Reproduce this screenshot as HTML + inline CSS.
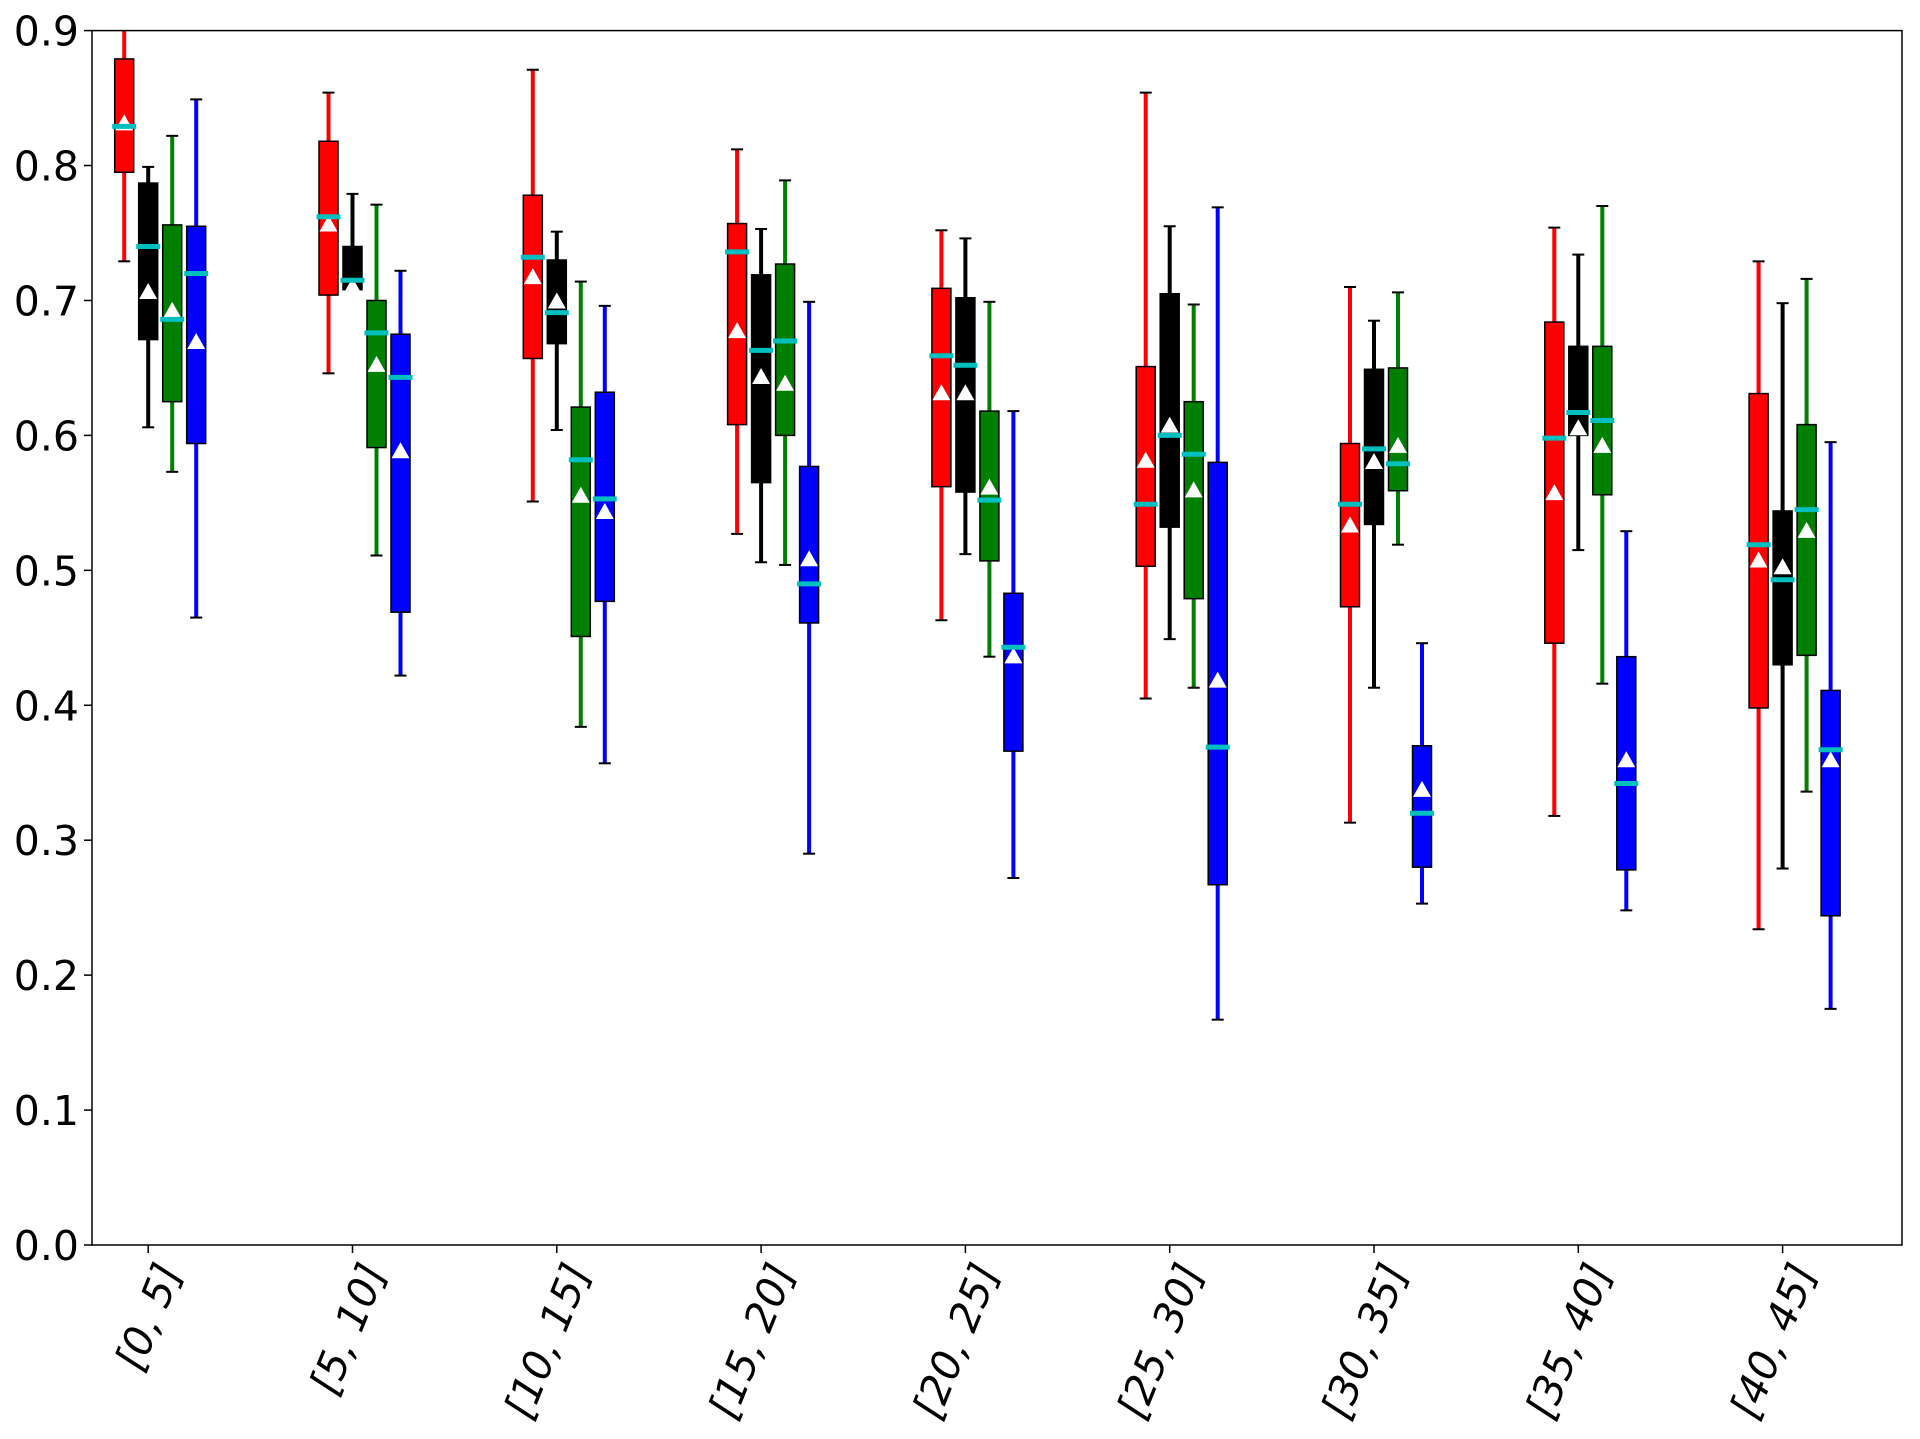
<!DOCTYPE html>
<html><head><meta charset="utf-8"><style>
html,body{margin:0;padding:0;background:#fff;}
svg{display:block;}
text{font-family:"DejaVu Sans","Liberation Sans",sans-serif;}
</style></head><body>
<svg id="chart" width="1920" height="1439" viewBox="0 0 1920 1439" xmlns="http://www.w3.org/2000/svg">
<g id="plot"></g>
<rect x="92" y="30.6" width="1810" height="1214.4" fill="none" stroke="#000" stroke-width="1.5"/>
<g id="yaxis"></g>
<g id="xaxis"></g>
</svg>
<script>
const categories = ["[0, 5]","[5, 10]","[10, 15]","[15, 20]","[20, 25]","[25, 30]","[30, 35]","[35, 40]","[40, 45]"];
const seriesColors = ["#ff0000","#000000","#008000","#0000ff"];
const seriesNames = ["red","black","green","blue"];
const whiskerHigh = [
 [0.92,0.854,0.871,0.812,0.752,0.854,0.710,0.754,0.729],
 [0.799,0.779,0.751,0.753,0.746,0.755,0.685,0.734,0.698],
 [0.822,0.771,0.714,0.789,0.699,0.697,0.706,0.770,0.716],
 [0.849,0.722,0.696,0.699,0.618,0.769,0.446,0.529,0.595]];
const q3 = [
 [0.879,0.818,0.778,0.757,0.709,0.651,0.594,0.684,0.631],
 [0.787,0.740,0.730,0.719,0.702,0.705,0.649,0.666,0.544],
 [0.756,0.700,0.621,0.727,0.618,0.625,0.650,0.666,0.608],
 [0.755,0.675,0.632,0.577,0.483,0.580,0.370,0.436,0.411]];
const medians = [
 [0.829,0.762,0.732,0.736,0.659,0.549,0.549,0.598,0.519],
 [0.740,0.715,0.691,0.663,0.652,0.600,0.590,0.617,0.493],
 [0.686,0.676,0.582,0.670,0.552,0.586,0.579,0.611,0.545],
 [0.720,0.643,0.553,0.490,0.443,0.369,0.320,0.342,0.367]];
const means = [
 [0.832,0.757,0.718,0.678,0.632,0.582,0.534,0.558,0.508],
 [0.707,0.711,0.700,0.644,0.632,0.608,0.581,0.606,0.503],
 [0.693,0.653,0.556,0.639,0.562,0.560,0.593,0.593,0.530],
 [0.670,0.589,0.544,0.509,0.437,0.419,0.338,0.360,0.360]];
const q1 = [
 [0.795,0.704,0.657,0.608,0.562,0.503,0.473,0.446,0.398],
 [0.671,0.708,0.668,0.565,0.558,0.532,0.534,0.600,0.430],
 [0.625,0.591,0.451,0.600,0.507,0.479,0.559,0.556,0.437],
 [0.594,0.469,0.477,0.461,0.366,0.267,0.280,0.278,0.244]];
const whiskerLow = [
 [0.729,0.646,0.551,0.527,0.463,0.405,0.313,0.318,0.234],
 [0.606,0.708,0.604,0.506,0.512,0.449,0.413,0.515,0.279],
 [0.573,0.511,0.384,0.504,0.436,0.413,0.519,0.416,0.336],
 [0.465,0.422,0.357,0.290,0.272,0.167,0.253,0.248,0.175]];
const yTicks = [0.0,0.1,0.2,0.3,0.4,0.5,0.6,0.7,0.8,0.9];
const yTickLabels = ["0.0","0.1","0.2","0.3","0.4","0.5","0.6","0.7","0.8","0.9"];

const NS="http://www.w3.org/2000/svg";
const L=92,R=1902,T=30.6,B=1245,YMAX=0.9;
function yS(v){return B-(v/YMAX)*(B-T);}
function xS(i){return 148.2+i*204.3;}
const offs=[-24,0,24,48];
function mk(tag,attrs,parent){const e=document.createElementNS(NS,tag);for(const k in attrs)e.setAttribute(k,attrs[k]);parent.appendChild(e);return e;}
const plot=document.getElementById('plot');
const defs=mk('defs',{},plot);
const cp=mk('clipPath',{id:'clip'},defs);
mk('rect',{x:L,y:T,width:R-L,height:B-T},cp);
const g=mk('g',{'clip-path':'url(#clip)'},plot);
for(let s=0;s<4;s++){
 for(let i=0;i<categories.length;i++){
  const cx=xS(i)+offs[s];const col=seriesColors[s];
  const grp=mk('g',{},g);
  
  
  const w1=mk('line',{x1:cx,x2:cx,y1:yS(whiskerHigh[s][i]),y2:yS(q3[s][i]),stroke:col,'stroke-width':4},grp);
  
  
  const w2=mk('line',{x1:cx,x2:cx,y1:yS(q1[s][i]),y2:yS(whiskerLow[s][i]),stroke:col,'stroke-width':4},grp);
  
  
  for(const v of [whiskerHigh[s][i],whiskerLow[s][i]]){
   const c=mk('line',{x1:cx-6,x2:cx+6,y1:yS(v),y2:yS(v),stroke:'#000','stroke-width':2},grp);
   
   
  }
  const bx=mk('rect',{x:cx-9.5,y:yS(q3[s][i]),width:19,height:yS(q1[s][i])-yS(q3[s][i]),fill:col,stroke:'#000','stroke-width':1.5},grp);
  
  
  const my=yS(means[s][i]);
  const tri=mk('polygon',{points:`${cx-9},${my+8} ${cx+9},${my+8} ${cx},${my-8}`,fill:'#fff'},grp);
  
  
  const md=yS(medians[s][i]);
  const ml=mk('line',{x1:cx-12,x2:cx+12,y1:md,y2:md,stroke:'#00bfbf','stroke-width':5},grp);
  
  
 }
}
const ya=document.getElementById('yaxis');
yTicks.forEach((v,k)=>{
 const y=yS(v);
 const t=mk('line',{x1:L-8,x2:L,y1:y,y2:y,stroke:'#000','stroke-width':1.5},ya);
 
 
 const tx=mk('text',{x:79,y:y+15,'text-anchor':'end','font-size':41,fill:'#000'},ya);
 tx.textContent=yTickLabels[k];
 
 
});
const xa=document.getElementById('xaxis');
categories.forEach((c,i)=>{
 const x=xS(i);
 const t=mk('line',{x1:x,x2:x,y1:B,y2:B+8,stroke:'#000','stroke-width':1.5},xa);
 
 
 const tx=mk('text',{x:0,y:0,'text-anchor':'end','font-size':41,'font-style':'italic',fill:'#000',transform:`translate(${x+34},${B+26}) rotate(-68)`},xa);
 tx.textContent=c;
 
 
});
</script>
</body></html>
